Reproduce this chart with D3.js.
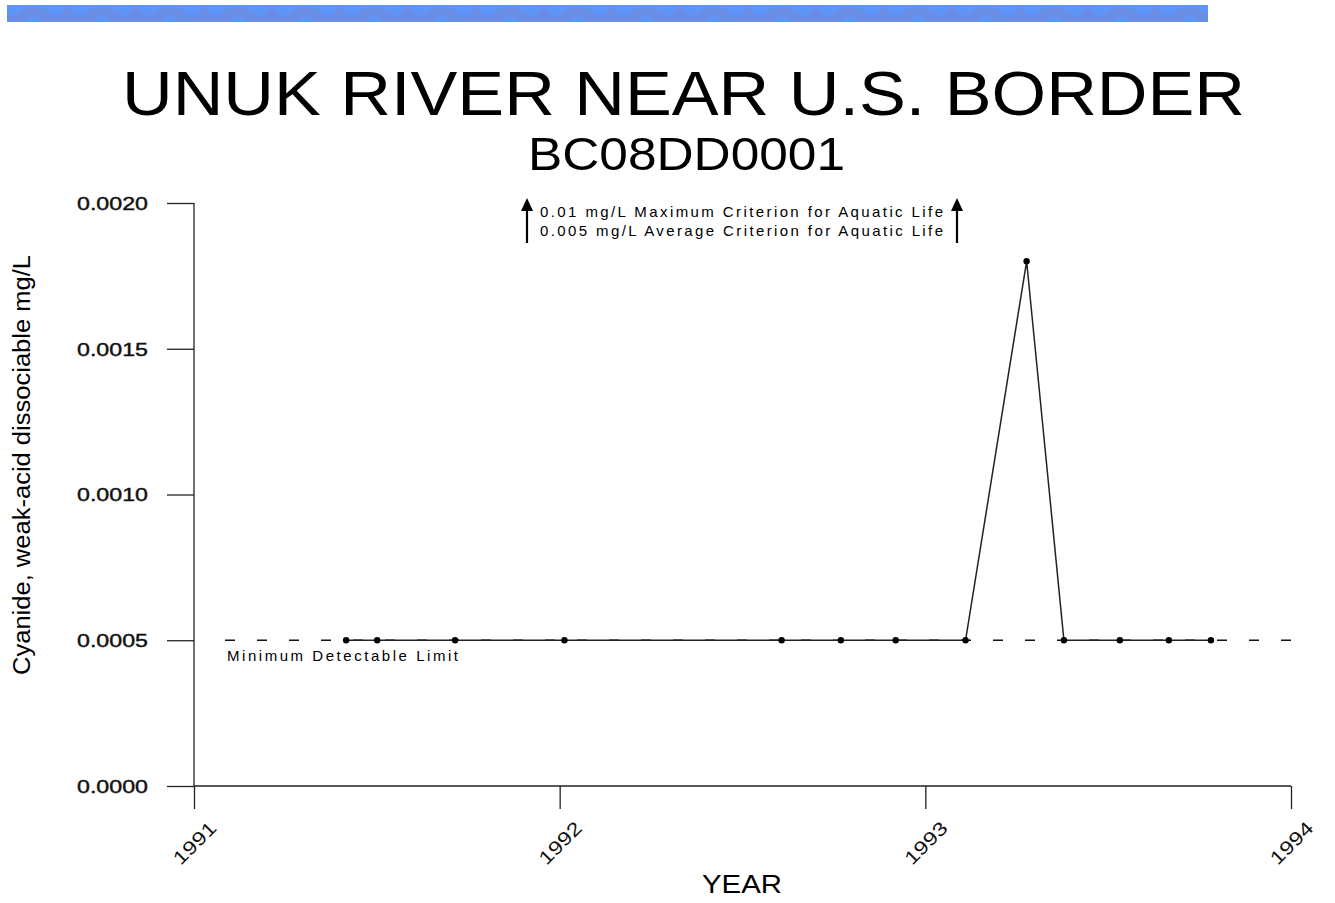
<!DOCTYPE html>
<html>
<head>
<meta charset="utf-8">
<script src="https://cdn.jsdelivr.net/npm/d3@7"></script>
<style>
  body { margin: 0; background: #fff; }
  svg { display: block; font-family: "Liberation Sans", Arial, sans-serif; }
</style>
</head>
<body>
<div id="chart"></div>
<script>
// Sample dates (decimal year) and cyanide values, mg/L
const sampleYears = [1991.416, 1991.501, 1991.714, 1992.013, 1992.607, 1992.769, 1992.919,
                     1993.110, 1993.277, 1993.379, 1993.532, 1993.666, 1993.781];
const cyanideValues = [0.0005, 0.0005, 0.0005, 0.0005, 0.0005, 0.0005, 0.0005,
                       0.0005, 0.0018, 0.0005, 0.0005, 0.0005, 0.0005];
const yearTicks = [1991, 1992, 1993, 1994];
const valueTicks = [0, 0.0005, 0.0010, 0.0015, 0.0020];
const detectLimit = 0.0005;
const criteriaLines = ["0.01 mg/L Maximum Criterion for Aquatic Life",
                       "0.005 mg/L Average Criterion for Aquatic Life"];

const W = 1335, H = 903;
const svg = d3.select("#chart").append("svg")
    .attr("width", W).attr("height", H);

// banner strip at top
const defs = svg.append("defs");
const pat = defs.append("pattern")
    .attr("id", "banner").attr("patternUnits", "userSpaceOnUse")
    .attr("width", 68).attr("height", 17).attr("y", 5);
pat.append("rect").attr("width", 68).attr("height", 17).attr("fill", "#6a8de6");
pat.append("path")
    .attr("d", "M0,0 Q10,17 20,6 Q34,-2 48,6 Q58,17 68,0 Z")
    .attr("fill", "#5c96fb");
pat.append("path")
    .attr("d", "M26,17 Q34,6 42,17 Z")
    .attr("fill", "#5c96fb");
svg.append("rect").attr("x", 7).attr("y", 5).attr("width", 1201).attr("height", 17)
    .attr("fill", "url(#banner)");

// titles (the original is a bit wider than the font, so stretch it)
svg.append("text").attr("x", 122).attr("y", 115)
    .attr("font-size", 63).attr("textLength", 1123).attr("lengthAdjust", "spacingAndGlyphs")
    .text("UNUK RIVER NEAR U.S. BORDER");
svg.append("text").attr("x", 528).attr("y", 170)
    .attr("font-size", 46).attr("textLength", 317).attr("lengthAdjust", "spacingAndGlyphs")
    .text("BC08DD0001");

// scales
const x = d3.scaleLinear().domain([1991, 1994]).range([194, 1291]);
const y = d3.scaleLinear().domain([0, 0.002]).range([786, 203]);

// y axis
const yAxis = svg.append("g").attr("transform", "translate(194,0)")
    .call(d3.axisLeft(y).tickValues(valueTicks).tickFormat(d3.format(".4f"))
        .tickSize(27).tickSizeOuter(0));
yAxis.select(".domain").remove();
yAxis.selectAll(".tick line").attr("stroke", "#222").attr("stroke-width", 1.3);
yAxis.selectAll(".tick text").attr("x", -46).attr("dy", "0.35em")
    .attr("font-size", 18).attr("fill", "#111")
    .attr("textLength", 71).attr("lengthAdjust", "spacingAndGlyphs")
    .attr("stroke", "#111").attr("stroke-width", 0.4)
    .attr("font-family", "Liberation Sans, Arial, sans-serif");
svg.append("line").attr("x1", 194).attr("x2", 194).attr("y1", 203).attr("y2", 786)
    .attr("stroke", "#222").attr("stroke-width", 1.3);

// x axis
const xAxis = svg.append("g").attr("transform", "translate(0,786)")
    .call(d3.axisBottom(x).tickValues(yearTicks).tickFormat(d3.format("d"))
        .tickSize(23).tickSizeOuter(0));
xAxis.select(".domain").remove();
xAxis.selectAll(".tick line").attr("stroke", "#222").attr("stroke-width", 1.3);
xAxis.selectAll(".tick text")
    .attr("y", 0).attr("dy", "0.35em")
    .attr("transform", "translate(0,57) rotate(-45)")
    .attr("text-anchor", "middle")
    .attr("font-size", 19).attr("fill", "#111")
    .attr("textLength", 52).attr("lengthAdjust", "spacingAndGlyphs")
    .attr("font-family", "Liberation Sans, Arial, sans-serif");
svg.append("line").attr("x1", 194).attr("x2", 1291).attr("y1", 786).attr("y2", 786)
    .attr("stroke", "#222").attr("stroke-width", 1.3);

// axis titles
svg.append("text").attr("transform", "translate(30,465) rotate(-90)")
    .attr("x", -210)
    .attr("font-size", 23).attr("textLength", 420).attr("lengthAdjust", "spacingAndGlyphs")
    .text("Cyanide, weak-acid dissociable mg/L");
svg.append("text").attr("x", 702).attr("y", 893)
    .attr("font-size", 26).attr("textLength", 80).attr("lengthAdjust", "spacingAndGlyphs")
    .text("YEAR");

// minimum detectable limit
svg.append("line").attr("x1", 225).attr("x2", 1291)
    .attr("y1", y(detectLimit)).attr("y2", y(detectLimit))
    .attr("stroke", "#111").attr("stroke-width", 1.3).attr("stroke-dasharray", "10,22");
svg.append("text").attr("x", 227).attr("y", y(detectLimit) + 21)
    .attr("font-size", 15).attr("textLength", 231).attr("lengthAdjust", "spacing")
    .text("Minimum Detectable Limit");

// criteria note with arrows
criteriaLines.forEach((t, i) => {
    svg.append("text").attr("x", 540).attr("y", 217 + i * 19)
        .attr("font-size", 15).attr("textLength", 403).attr("lengthAdjust", "spacing")
        .text(t);
});
[527, 957].forEach(ax => {
    svg.append("line").attr("x1", ax).attr("x2", ax).attr("y1", 208).attr("y2", 243)
        .attr("stroke", "#000").attr("stroke-width", 2.2);
    svg.append("path").attr("d", `M${ax - 6},211 L${ax},198 L${ax + 6},211 Z`).attr("fill", "#000");
});

// data line and points
const pts = sampleYears.map((yr, i) => ({ yr, v: cyanideValues[i] }));
svg.append("path").datum(pts)
    .attr("fill", "none").attr("stroke", "#222").attr("stroke-width", 1.5)
    .attr("d", d3.line().x(d => x(d.yr)).y(d => y(d.v)));
svg.selectAll(".pt").data(pts).enter().append("circle")
    .attr("class", "pt")
    .attr("cx", d => x(d.yr)).attr("cy", d => y(d.v)).attr("r", 3.2)
    .attr("fill", "#000");
</script>
</body>
</html>
